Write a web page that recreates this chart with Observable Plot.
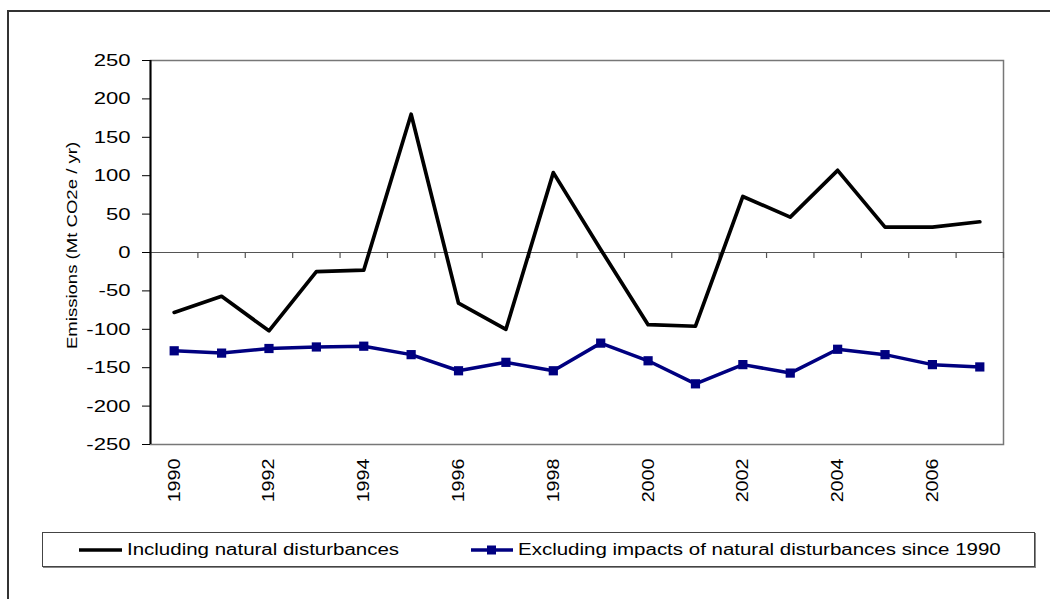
<!DOCTYPE html>
<html>
<head>
<meta charset="utf-8">
<script src="https://cdn.jsdelivr.net/npm/d3@7"></script>
<script src="https://cdn.jsdelivr.net/npm/@observablehq/plot@0.6"></script>
<style>
  html, body { margin: 0; padding: 0; background: #fff; }
  body { width: 1050px; height: 599px; overflow: hidden; position: relative; font-family: "Liberation Sans", Arial, sans-serif; }
  #frame { position: absolute; left: 7px; top: 10px; width: 1100px; height: 700px; border-left: 2px solid #333; border-top: 2px solid #333; box-sizing: border-box; }
  #chart { position: absolute; left: 0; top: 0; }
  #legend { position: absolute; left: 42px; top: 532px; width: 993px; height: 35px; border: 1px solid #444; box-shadow: 1px 1px 0 #888; box-sizing: border-box; font-size: 16px; color: #000; }
  .item { position: absolute; top: 0; height: 33px; display: flex; align-items: center; white-space: nowrap; }
  .item svg { margin-right: 5px; }
  .item span { display: inline-block; transform: scaleX(1.28); transform-origin: left center; }
</style>
</head>
<body>
<div id="frame"></div>
<div id="chart"></div>
<div id="legend">
  <div class="item" style="left:36px"><svg width="43" height="12"><line x1="0" y1="6" x2="43" y2="6" stroke="#000" stroke-width="3.5"/></svg><span id="lab0"></span></div>
  <div class="item" style="left:428px"><svg width="42" height="12"><line x1="0" y1="6" x2="42" y2="6" stroke="#000080" stroke-width="3.5"/><rect x="16" y="1.5" width="9" height="9" fill="#000080"/></svg><span id="lab1"></span></div>
</div>
<script>
const years = [1990,1991,1992,1993,1994,1995,1996,1997,1998,1999,2000,2001,2002,2003,2004,2005,2006,2007];
const including = [-78,-57,-102,-25,-23,180,-66,-100,104,4,-94,-96,73,46,107,33,33,40];
const excluding = [-128,-131,-125,-123,-122,-133,-154,-143,-154,-118,-141,-171,-146,-157,-126,-133,-146,-149];
const seriesNames = ["Including natural disturbances", "Excluding impacts of natural disturbances since 1990"];
const yTicks = [-250,-200,-150,-100,-50,0,50,100,150,200,250];
const xTickLabels = [1990,1992,1994,1996,1998,2000,2002,2004,2006];
const yTitle = "Emissions (Mt CO2e / yr)";

document.getElementById("lab0").textContent = seriesNames[0];
document.getElementById("lab1").textContent = seriesNames[1];

const incData = years.map((y, i) => ({year: y, value: including[i]}));
const excData = years.map((y, i) => ({year: y, value: excluding[i]}));
const boundaries = years.map(y => y - 0.5).concat([years[years.length - 1] + 0.5]);

const plot = Plot.plot({
  width: 1050,
  height: 520,
  marginLeft: 150,
  marginRight: 47,
  marginTop: 60,
  marginBottom: 76,
  style: {fontFamily: "'Liberation Sans', Arial, sans-serif", fontSize: "17px", color: "#000", background: "transparent"},
  x: {domain: [years[0] - 0.5, years[years.length - 1] + 0.5]},
  y: {domain: [-250, 250]},
  marks: [
    Plot.frame({stroke: "#777", strokeWidth: 1.5}),
    Plot.ruleY([0], {stroke: "#555", strokeWidth: 1.2}),
    Plot.ruleX(boundaries, {y1: 0, y2: 0, insetBottom: -6, stroke: "#555", strokeWidth: 1.2}),
    Plot.axisY({ticks: yTicks, tickSize: 8, tickPadding: 12, tickFormat: d => String(d), fontSize: 17, label: null}),
    Plot.axisY({ticks: [], tickSize: 0, label: yTitle, labelAnchor: "center", labelOffset: 84, labelArrow: false, fontSize: 14.5}),
    Plot.ruleX([years[0] - 0.5], {stroke: "#000", strokeWidth: 2}),
    Plot.axisX({ticks: xTickLabels, tickSize: 0, tickRotate: -90, tickPadding: 14, tickFormat: d => String(d), fontSize: 17, label: null}),
    Plot.line(incData, {x: "year", y: "value", stroke: "#000", strokeWidth: 3.7}),
    Plot.line(excData, {x: "year", y: "value", stroke: "#000080", strokeWidth: 3.5}),
    Plot.dot(excData, {x: "year", y: "value", symbol: "square", r: 5.2, fill: "#000080", stroke: "none"})
  ]
});
document.getElementById("chart").appendChild(plot);

// Reference text is drawn slightly stretched along its reading direction
function stretch(sel, extra) {
  d3.select(plot).selectAll(sel).each(function() {
    let t = this.getAttribute("transform");
    if (!t) {
      const x = this.getAttribute("x") || 0, y = this.getAttribute("y") || 0;
      this.removeAttribute("x"); this.removeAttribute("y");
      t = `translate(${x},${y})`;
    }
    this.setAttribute("transform", t + " " + extra);
  });
}
stretch('g[aria-label="y-axis tick label"] text', "scale(1.3,1)");
stretch('g[aria-label="x-axis tick label"] text', "scale(1.16,1)");
stretch('g[aria-label="y-axis label"] text', "translate(7,0) scale(1.28,1)");
</script>
</body>
</html>
